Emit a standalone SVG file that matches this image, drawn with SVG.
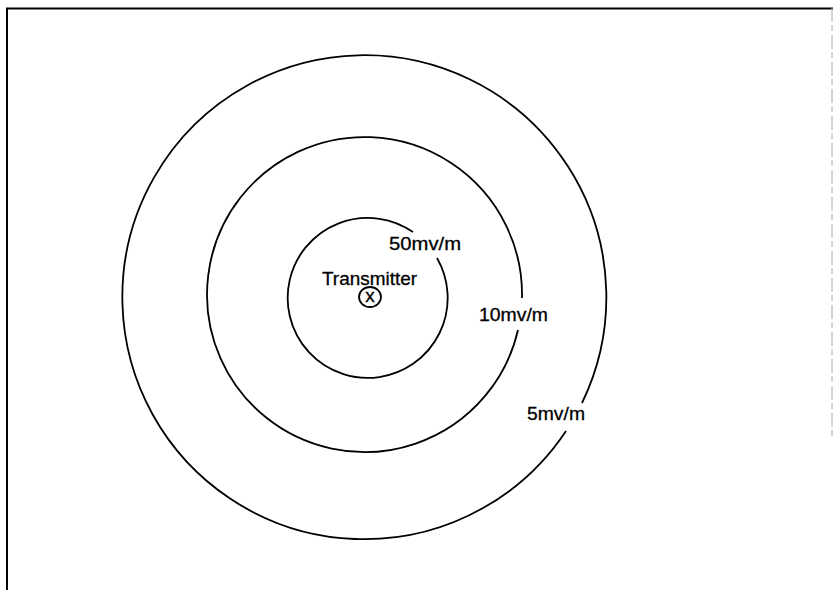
<svg xmlns="http://www.w3.org/2000/svg" width="833" height="590" viewBox="0 0 833 590">
<style>
.ring{fill:none;stroke:#000;stroke-width:1.8}
.lbl{font-family:"Liberation Sans",Arial,sans-serif;font-size:19px;fill:#000;stroke:#000;stroke-width:0.3}
</style>
<rect width="833" height="590" fill="#fff"/>
<g id="frame">
<path d="M7,590 V8.5 H833" fill="none" stroke="#000" stroke-width="2"/>
<path d="M832,8 V440" fill="none" stroke="#aaa" stroke-width="1" stroke-dasharray="14 3 6 4"/>
</g>
<g id="ring-5">
<path class="ring" d="M566,431 A242,242 0 1 1 582,403"/>
<text class="lbl" x="527" y="420" textLength="58" lengthAdjust="spacingAndGlyphs">5mv/m</text>
</g>
<g id="ring-10">
<path class="ring" d="M518,330 A157.5,157.5 0 1 1 522,298"/>
<text class="lbl" x="479" y="321" textLength="69" lengthAdjust="spacingAndGlyphs">10mv/m</text>
</g>
<g id="ring-50">
<path class="ring" d="M437,258 A80,80 0 1 1 413,232"/>
<text class="lbl" x="389" y="250" textLength="72" lengthAdjust="spacingAndGlyphs">50mv/m</text>
</g>
<g id="transmitter">
<text class="lbl" x="322" y="285" textLength="95" lengthAdjust="spacingAndGlyphs">Transmitter</text>
<ellipse cx="370" cy="297" rx="11" ry="10" class="ring" stroke-width="1.6"/>
<text class="lbl" x="370" y="302" font-size="16" text-anchor="middle">x</text>
</g>
</svg>
